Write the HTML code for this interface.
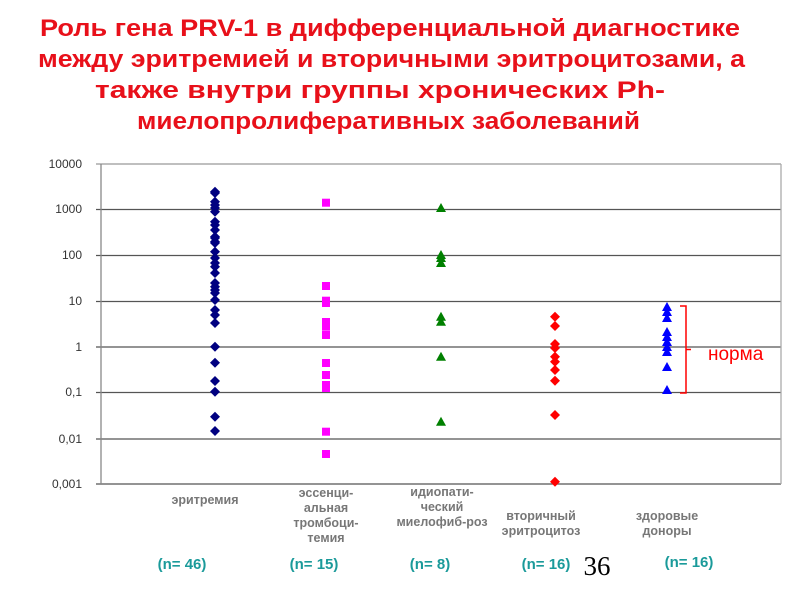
<!DOCTYPE html>
<html><head><meta charset="utf-8"><style>html,body{margin:0;padding:0;background:#fff}svg{display:block}</style></head>
<body>
<svg width="800" height="600" xmlns="http://www.w3.org/2000/svg" font-family="Liberation Sans, sans-serif">
<rect width="800" height="600" fill="#fff"/>
<g fill="#e8101a" font-weight="bold" font-size="24">
<text x="40" y="36" textLength="700" lengthAdjust="spacingAndGlyphs">Роль гена PRV-1 в дифференциальной диагностике</text>
<text x="38" y="67" textLength="707" lengthAdjust="spacingAndGlyphs">между эритремией и вторичными эритроцитозами, а</text>
<text x="95" y="98" textLength="570" lengthAdjust="spacingAndGlyphs">также внутри группы хронических Ph-</text>
<text x="137" y="129" textLength="503" lengthAdjust="spacingAndGlyphs">миелопролиферативных заболеваний</text>
</g>
<g stroke="#555" stroke-width="1.3">
<line x1="96" y1="164" x2="781" y2="164" stroke="#999"/>
<line x1="96" y1="209.5" x2="781" y2="209.5"/>
<line x1="96" y1="255.5" x2="781" y2="255.5"/>
<line x1="96" y1="301.5" x2="781" y2="301.5"/>
<line x1="96" y1="347" x2="781" y2="347"/>
<line x1="96" y1="392.5" x2="781" y2="392.5"/>
<line x1="96" y1="439" x2="781" y2="439"/>
<line x1="96" y1="484" x2="781" y2="484"/>
<line x1="101" y1="164" x2="101" y2="484" stroke="#888"/>
<line x1="781" y1="164" x2="781" y2="484" stroke="#aaa"/>
</g>
<g font-size="12" fill="#333" text-anchor="end">
<text x="82" y="168">10000</text><text x="82" y="213">1000</text><text x="82" y="259">100</text>
<text x="82" y="305">10</text><text x="82" y="351">1</text><text x="82" y="396">0,1</text>
<text x="82" y="443">0,01</text><text x="82" y="488">0,001</text>
</g>
<g fill="#000080">
<path d="M215 186.7l5 5-5 5-5-5z"/><path d="M215 188l5 5-5 5-5-5z"/><path d="M215 196.7l5 5-5 5-5-5z"/><path d="M215 200l5 5-5 5-5-5z"/><path d="M215 203l5 5-5 5-5-5z"/><path d="M215 206.7l5 5-5 5-5-5z"/><path d="M215 216.7l5 5-5 5-5-5z"/><path d="M215 220l5 5-5 5-5-5z"/><path d="M215 225l5 5-5 5-5-5z"/><path d="M215 231.7l5 5-5 5-5-5z"/><path d="M215 233l5 5-5 5-5-5z"/><path d="M215 236.7l5 5-5 5-5-5z"/><path d="M215 238l5 5-5 5-5-5z"/><path d="M215 246.7l5 5-5 5-5-5z"/><path d="M215 253l5 5-5 5-5-5z"/><path d="M215 258l5 5-5 5-5-5z"/><path d="M215 261.7l5 5-5 5-5-5z"/><path d="M215 268l5 5-5 5-5-5z"/><path d="M215 278l5 5-5 5-5-5z"/><path d="M215 281.7l5 5-5 5-5-5z"/><path d="M215 285l5 5-5 5-5-5z"/><path d="M215 288l5 5-5 5-5-5z"/><path d="M215 295l5 5-5 5-5-5z"/><path d="M215 305l5 5-5 5-5-5z"/><path d="M215 310l5 5-5 5-5-5z"/><path d="M215 318l5 5-5 5-5-5z"/><path d="M215 341.7l5 5-5 5-5-5z"/><path d="M215 357.7l5 5-5 5-5-5z"/><path d="M215 376l5 5-5 5-5-5z"/><path d="M215 386.7l5 5-5 5-5-5z"/><path d="M215 411.7l5 5-5 5-5-5z"/><path d="M215 426l5 5-5 5-5-5z"/>
</g>
<g fill="#ff00ff">
<rect x="322" y="198.7" width="8" height="8"/><rect x="322" y="282" width="8" height="8"/><rect x="322" y="296.7" width="8" height="8"/><rect x="322" y="299" width="8" height="8"/><rect x="322" y="318" width="8" height="8"/><rect x="322" y="322.7" width="8" height="8"/><rect x="322" y="331" width="8" height="8"/><rect x="322" y="359" width="8" height="8"/><rect x="322" y="371" width="8" height="8"/><rect x="322" y="381" width="8" height="8"/><rect x="322" y="384" width="8" height="8"/><rect x="322" y="427.7" width="8" height="8"/><rect x="322" y="450" width="8" height="8"/>
</g>
<g fill="#008000">
<path d="M441 203l5 9h-10z"/><path d="M441 250l5 9h-10z"/><path d="M441 253l5 9h-10z"/><path d="M441 258l5 9h-10z"/><path d="M441 311.7l5 9h-10z"/><path d="M441 316.7l5 9h-10z"/><path d="M441 351.7l5 9h-10z"/><path d="M441 416.7l5 9h-10z"/>
</g>
<g fill="#ff0000">
<path d="M555 311.7l5 5-5 5-5-5z"/><path d="M555 321l5 5-5 5-5-5z"/><path d="M555 339l5 5-5 5-5-5z"/><path d="M555 343l5 5-5 5-5-5z"/><path d="M555 351.7l5 5-5 5-5-5z"/><path d="M555 356.7l5 5-5 5-5-5z"/><path d="M555 365l5 5-5 5-5-5z"/><path d="M555 375.7l5 5-5 5-5-5z"/><path d="M555 410l5 5-5 5-5-5z"/><path d="M555 476.7l5 5-5 5-5-5z"/>
</g>
<g fill="#0000ff">
<path d="M667 302l5 9h-10z"/><path d="M667 307l5 9h-10z"/><path d="M667 313l5 9h-10z"/><path d="M667 327l5 9h-10z"/><path d="M667 332l5 9h-10z"/><path d="M667 337l5 9h-10z"/><path d="M667 342l5 9h-10z"/><path d="M667 347l5 9h-10z"/><path d="M667 362l5 9h-10z"/><path d="M667 385l5 9h-10z"/>
</g>
<path d="M680 306h6v87h-6M686 349.5h5" fill="none" stroke="#ff0000" stroke-width="1.5"/>
<text x="708" y="360" font-size="19" fill="#ff0000">норма</text>
<g font-size="12.5" font-weight="bold" fill="#777" text-anchor="middle">
<text x="205" y="504">эритремия</text>
<text x="326" y="497">эссенци-</text><text x="326" y="512">альная</text><text x="326" y="527">тромбоци-</text><text x="326" y="542">темия</text>
<text x="442" y="496">идиопати-</text><text x="442" y="511">ческий</text><text x="442" y="526">миелофиб-роз</text>
<text x="541" y="520">вторичный</text><text x="541" y="535">эритроцитоз</text>
<text x="667" y="520">здоровые</text><text x="667" y="535">доноры</text>
</g>
<g font-size="15" font-weight="bold" fill="#1a9a9a" text-anchor="middle">
<text x="182" y="569">(n= 46)</text><text x="314" y="569">(n= 15)</text><text x="430" y="569">(n= 8)</text>
<text x="546" y="569">(n= 16)</text><text x="689" y="567">(n= 16)</text>
</g>
<text x="597" y="575" font-size="27" font-family="Liberation Serif, serif" fill="#000" text-anchor="middle">36</text>
</svg>
</body></html>
